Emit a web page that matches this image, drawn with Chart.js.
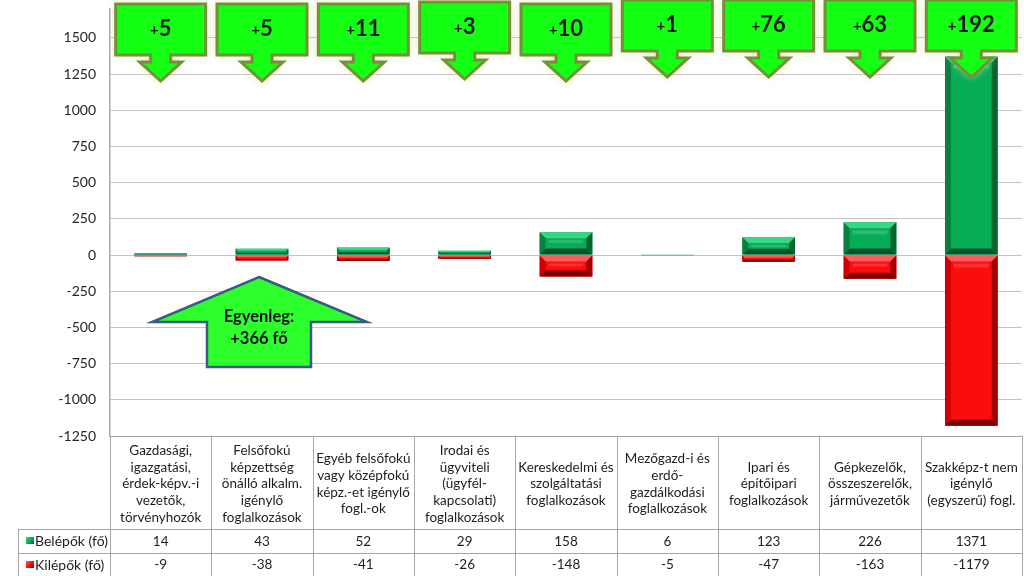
<!DOCTYPE html>
<html>
<head>
<meta charset="utf-8">
<script src="https://cdn.jsdelivr.net/npm/chart.js@4.4.0/dist/chart.umd.min.js"></script>
<style>
    html, body { margin: 0; padding: 0; background: #fff; }
    #wrap { width: 1024px; height: 576px; }
</style>
</head>
<body>
<div id="wrap"><canvas id="flowChart" width="1024" height="576"></canvas></div>
<script>
// DATA
const categories = [
    ['Gazdasági,', 'igazgatási,', 'érdek-képv.-i', 'vezetők,', 'törvényhozók'],
    ['Felsőfokú', 'képzettség', 'önálló alkalm.', 'igénylő', 'foglalkozások'],
    ['Egyéb felsőfokú', 'vagy középfokú', 'képz.-et igénylő', 'fogl.-ok'],
    ['Irodai és', 'ügyviteli', '(ügyfél-', 'kapcsolati)', 'foglalkozások'],
    ['Kereskedelmi és', 'szolgáltatási', 'foglalkozások'],
    ['Mezőgazd-i és', 'erdő-', 'gazdálkodási', 'foglalkozások'],
    ['Ipari és', 'építőipari', 'foglalkozások'],
    ['Gépkezelők,', 'összeszerelők,', 'járművezetők'],
    ['Szakképz-t nem', 'igénylő', '(egyszerű) fogl.']
];
const belepok = [14, 43, 52, 29, 158, 6, 123, 226, 1371];
const kilepok = [-9, -38, -41, -26, -148, -5, -47, -163, -1179];
const seriesNames = ['Belépők (fő)', 'Kilépők (fő)'];
const yTicks = [-1250, -1000, -750, -500, -250, 0, 250, 500, 750, 1000, 1250, 1500];

const FONT = 'Lato, "Open Sans", sans-serif';
const GREEN = { face: '#06ad55', top: '#3ad487', left: '#08803f', right: '#04662f', bottom: '#03532a' };
const RED = { face: '#fb0d0d', top: '#ff5a5a', left: '#cc0000', right: '#a20000', bottom: '#7d0000' };

// bevel look on the bars, drawn over the library's bar elements
const bevelPlugin = {
    id: 'bevel',
    afterDatasetsDraw(chart) {
        const ctx = chart.ctx;
        chart.data.datasets.forEach((ds, di) => {
            const pal = di === 0 ? GREEN : RED;
            chart.getDatasetMeta(di).data.forEach(el => {
                const p = el.getProps(['x', 'y', 'base', 'width'], true);
                const l = p.x - p.width / 2, r = p.x + p.width / 2;
                const t = Math.min(p.y, p.base), b = Math.max(p.y, p.base);
                const h = b - t;
                if (h < 0.5) return;
                const bv = Math.min(6, h / 3, p.width / 4);
                const poly = (pts, col) => {
                    ctx.beginPath();
                    ctx.moveTo(pts[0][0], pts[0][1]);
                    for (let k = 1; k < pts.length; k++) ctx.lineTo(pts[k][0], pts[k][1]);
                    ctx.closePath();
                    ctx.fillStyle = col;
                    ctx.fill();
                };
                ctx.save();
                // soft stripe in the face
                if (h > 14) {
                    ctx.fillStyle = 'rgba(255,255,255,0.16)';
                    ctx.fillRect(l + bv + 3, t + bv + 2, p.width - 2 * bv - 6, Math.min(4, h / 8));
                }
                poly([[l, t], [r, t], [r - bv, t + bv], [l + bv, t + bv]], pal.top);
                poly([[l, b], [r, b], [r - bv, b - bv], [l + bv, b - bv]], pal.bottom);
                poly([[l, t], [l + bv, t + bv], [l + bv, b - bv], [l, b]], pal.left);
                poly([[r, t], [r - bv, t + bv], [r - bv, b - bv], [r, b]], pal.right);
                ctx.restore();
            });
        });
    }
};

// data table under the plot
const tablePlugin = {
    id: 'table',
    afterDraw(chart) {
        const ctx = chart.ctx;
        const xs = chart.scales.x;
        const area = chart.chartArea;
        const step = (area.right - area.left) / categories.length;
        const top = area.bottom, row1 = 529, row2 = 553, bottom = 576;
        const legendLeft = 18;
        ctx.save();
        ctx.strokeStyle = '#a6a6a6';
        ctx.lineWidth = 1;
        ctx.beginPath();
        ctx.moveTo(area.left, top + 0.5); ctx.lineTo(area.right, top + 0.5);
        ctx.moveTo(legendLeft, row1 + 0.5); ctx.lineTo(area.right, row1 + 0.5);
        ctx.moveTo(legendLeft, row2 + 0.5); ctx.lineTo(area.right, row2 + 0.5);
        ctx.moveTo(legendLeft + 0.5, row1); ctx.lineTo(legendLeft + 0.5, bottom);
        for (let i = 0; i <= categories.length; i++) {
            const xx = Math.round(area.left + i * step) + 0.5;
            ctx.moveTo(xx, top); ctx.lineTo(xx, bottom);
        }
        ctx.stroke();

        ctx.fillStyle = '#1e1e1e';
        ctx.textAlign = 'center';
        ctx.textBaseline = 'middle';
        ctx.font = '13.5px ' + FONT;
        const lh = 16.7;
        categories.forEach((lines, i) => {
            const cx = xs.getPixelForValue(i);
            const y0 = 484 - (lines.length - 1) * lh / 2;
            lines.forEach((s, k) => ctx.fillText(s, cx, y0 + k * lh));
            ctx.fillText(String(belepok[i]), cx, 542);
            ctx.fillText(String(kilepok[i]), cx, 565);
        });

        // legend keys
        [[GREEN, 541, seriesNames[0]], [RED, 565, seriesNames[1]]].forEach(([pal, yy, name]) => {
            const g = ctx.createLinearGradient(26, yy - 4, 34, yy + 4);
            g.addColorStop(0, pal.top);
            g.addColorStop(0.5, pal.face);
            g.addColorStop(1, pal.bottom);
            ctx.fillStyle = g;
            ctx.fillRect(26, yy - 4, 8, 7);
            ctx.fillStyle = '#1e1e1e';
            ctx.textAlign = 'left';
            ctx.font = '14px ' + FONT;
            ctx.fillText(name, 35, yy);
        });
        ctx.restore();
    }
};

// balance callouts above each category, plus the overall balance arrow
const calloutPlugin = {
    id: 'callouts',
    afterDraw(chart) {
        const ctx = chart.ctx;
        const xs = chart.scales.x;
        const dy = [0, 0, 0, -2, 0, -4, -4, -4, -4];
        ctx.save();
        belepok.forEach((v, i) => {
            const net = v + kilepok[i];
            const cx = xs.getPixelForValue(i);
            const t = 4 + dy[i], bb = 55 + dy[i], hb = 62 + dy[i], tip = 81 + dy[i];
            const l = cx - 45, r = cx + 45;
            ctx.beginPath();
            ctx.moveTo(l, t); ctx.lineTo(r, t); ctx.lineTo(r, bb);
            ctx.lineTo(cx + 10, bb); ctx.lineTo(cx + 10, hb); ctx.lineTo(cx + 21, hb);
            ctx.lineTo(cx, tip);
            ctx.lineTo(cx - 21, hb); ctx.lineTo(cx - 10, hb); ctx.lineTo(cx - 10, bb);
            ctx.lineTo(l, bb); ctx.closePath();
            ctx.shadowColor = 'rgba(214,230,150,0.95)';
            ctx.shadowBlur = 8;
            ctx.fillStyle = '#14ff14';
            ctx.fill();
            ctx.shadowBlur = 0;
            ctx.strokeStyle = '#76903a';
            ctx.lineWidth = 3;
            ctx.lineJoin = 'miter';
            ctx.stroke();

            // small plus, big digits
            ctx.fillStyle = '#1a1a1a';
            ctx.textBaseline = 'alphabetic';
            ctx.textAlign = 'left';
            const digits = String(Math.abs(net));
            ctx.font = 'bold 15px ' + FONT;
            const wp = ctx.measureText('+').width;
            ctx.font = 'bold 22px ' + FONT;
            const wd = ctx.measureText(digits).width;
            const sx = cx - (wp + wd) / 2;
            const base = 36 + dy[i];
            ctx.font = 'bold 15px ' + FONT;
            ctx.fillText(net >= 0 ? '+' : '-', sx, base - 1);
            ctx.font = 'bold 22px ' + FONT;
            ctx.fillText(digits, sx + wp, base);
        });

        // overall balance arrow
        const total = belepok.reduce((a, v) => a + v, 0) + kilepok.reduce((a, v) => a + v, 0);
        ctx.beginPath();
        ctx.moveTo(259, 277);
        ctx.lineTo(367, 322); ctx.lineTo(311, 322); ctx.lineTo(311, 367);
        ctx.lineTo(207, 367); ctx.lineTo(207, 322); ctx.lineTo(152, 322);
        ctx.closePath();
        ctx.fillStyle = '#2dff2d';
        ctx.fill();
        ctx.strokeStyle = '#3a5a82';
        ctx.lineWidth = 2.5;
        ctx.stroke();
        ctx.fillStyle = '#111';
        ctx.textAlign = 'center';
        ctx.textBaseline = 'middle';
        ctx.font = 'bold 16.5px ' + FONT;
        ctx.fillText('Egyenleg:', 259, 317);
        ctx.fillText((total >= 0 ? '+' : '') + total + ' fő', 259, 339);
        ctx.restore();
    }
};

const ctxFlow = document.getElementById('flowChart').getContext('2d');
const flowChart = new Chart(ctxFlow, {
    type: 'bar',
    data: {
        labels: categories.map(c => c.join(' ')),
        datasets: [{
            label: seriesNames[0],
            data: belepok,
            backgroundColor: GREEN.face,
            barPercentage: 0.52,
            categoryPercentage: 1
        }, {
            label: seriesNames[1],
            data: kilepok,
            backgroundColor: RED.face,
            barPercentage: 0.52,
            categoryPercentage: 1
        }]
    },
    options: {
        responsive: false,
        animation: false,
        devicePixelRatio: 1,
        layout: {
            padding: { top: 9, right: 2, bottom: 140, left: 0 }
        },
        scales: {
            x: {
                stacked: true,
                display: false
            },
            y: {
                stacked: true,
                min: -1250,
                max: 1700,
                afterBuildTicks: axis => {
                    axis.ticks = yTicks.map(v => ({ value: v }));
                },
                afterFit: axis => {
                    axis.width = 110;
                },
                ticks: {
                    padding: 0,
                    color: '#262626',
                    font: { family: FONT, size: 14 },
                    callback: value => String(value)
                },
                grid: {
                    color: '#c4c4c4',
                    drawTicks: true,
                    tickLength: 14,
                    tickColor: 'rgba(0,0,0,0)'
                },
                border: {
                    color: '#a8a8a8',
                    width: 1.5
                }
            }
        },
        plugins: {
            legend: { display: false },
            tooltip: { enabled: false }
        }
    },
    plugins: [bevelPlugin, tablePlugin, calloutPlugin]
});
</script>
</body>
</html>
